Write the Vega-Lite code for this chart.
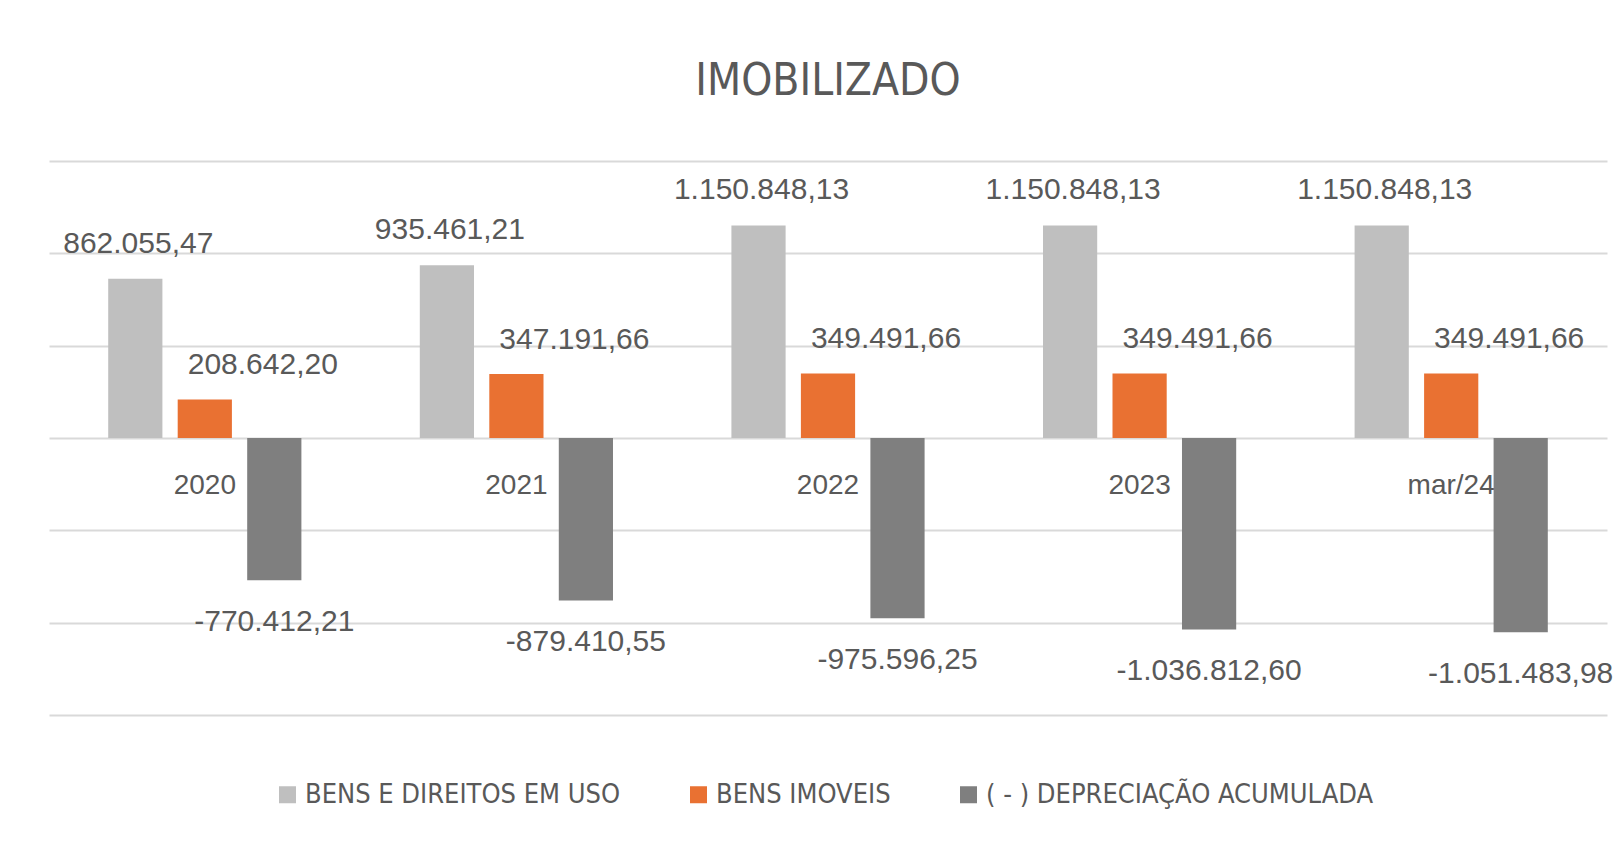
{
  "$schema": "https://vega.github.io/schema/vega-lite/v6.json",
  "autosize": "none",
  "padding": {"left": 49, "top": 161, "right": 17, "bottom": 126},
  "width": 1558,
  "height": 554,
  "background": "white",
  "title": {
    "text": "IMOBILIZADO",
    "fontSize": 44,
    "font": "Liberation Sans Narrow, DejaVu Sans Condensed, sans-serif",
    "fontWeight": "normal",
    "color": "#595959",
    "anchor": "middle",
    "baseline": "bottom",
    "offset": 13
  },
  "config": {
    "view": {"stroke": null},
    "locale": {"number": {"decimal": ",", "thousands": ".", "grouping": [3], "currency": ["R$", ""], "minus": "-"}}
  },
  "data": {
    "values": [
      {"periodo": "2020", "serie": "BENS E DIREITOS EM USO", "valor": 862055.47},
      {"periodo": "2020", "serie": "BENS IMOVEIS", "valor": 208642.20},
      {"periodo": "2020", "serie": "( - ) DEPRECIAÇÃO ACUMULADA", "valor": -770412.21},
      {"periodo": "2021", "serie": "BENS E DIREITOS EM USO", "valor": 935461.21},
      {"periodo": "2021", "serie": "BENS IMOVEIS", "valor": 347191.66},
      {"periodo": "2021", "serie": "( - ) DEPRECIAÇÃO ACUMULADA", "valor": -879410.55},
      {"periodo": "2022", "serie": "BENS E DIREITOS EM USO", "valor": 1150848.13},
      {"periodo": "2022", "serie": "BENS IMOVEIS", "valor": 349491.66},
      {"periodo": "2022", "serie": "( - ) DEPRECIAÇÃO ACUMULADA", "valor": -975596.25},
      {"periodo": "2023", "serie": "BENS E DIREITOS EM USO", "valor": 1150848.13},
      {"periodo": "2023", "serie": "BENS IMOVEIS", "valor": 349491.66},
      {"periodo": "2023", "serie": "( - ) DEPRECIAÇÃO ACUMULADA", "valor": -1036812.60},
      {"periodo": "mar/24", "serie": "BENS E DIREITOS EM USO", "valor": 1150848.13},
      {"periodo": "mar/24", "serie": "BENS IMOVEIS", "valor": 349491.66},
      {"periodo": "mar/24", "serie": "( - ) DEPRECIAÇÃO ACUMULADA", "valor": -1051483.98}
    ]
  },
  "encoding": {
    "x": {
      "field": "periodo",
      "type": "nominal",
      "scale": {"domain": ["2020", "2021", "2022", "2023", "mar/24"], "paddingInner": 0.38, "paddingOuter": 0.19},
      "axis": {
        "title": null,
        "orient": "bottom",
        "offset": -277,
        "domain": false,
        "ticks": false,
        "labelAngle": 0,
        "labelFont": "Liberation Sans, Arial, sans-serif",
        "labelFontSize": 28,
        "labelColor": "#595959",
        "labelPadding": 33,
        "grid": false
      }
    },
    "xOffset": {
      "field": "serie",
      "type": "nominal",
      "scale": {"domain": ["BENS E DIREITOS EM USO", "BENS IMOVEIS", "( - ) DEPRECIAÇÃO ACUMULADA"], "paddingInner": 0.22, "paddingOuter": 0}
    },
    "y": {
      "field": "valor",
      "type": "quantitative",
      "scale": {"domain": [-1500000, 1500000], "nice": false},
      "axis": {
        "title": null,
        "labels": false,
        "ticks": false,
        "domain": false,
        "grid": true,
        "gridColor": "#d9d9d9",
        "gridWidth": 2,
        "values": [-1500000, -1000000, -500000, 0, 500000, 1000000, 1500000]
      }
    }
  },
  "layer": [
    {
      "mark": {"type": "bar"},
      "encoding": {
        "color": {
          "field": "serie",
          "type": "nominal",
          "scale": {
            "domain": ["BENS E DIREITOS EM USO", "BENS IMOVEIS", "( - ) DEPRECIAÇÃO ACUMULADA"],
            "range": ["#bfbfbf", "#e97132", "#7f7f7f"]
          },
          "legend": {
            "title": null,
            "orient": "none",
            "legendX": 225,
            "legendY": 620,
            "direction": "horizontal",
            "symbolType": "square",
            "symbolSize": 289,
            "symbolStrokeWidth": 0,
            "labelFont": "Liberation Sans Narrow, DejaVu Sans Condensed, sans-serif",
            "labelFontSize": 27,
            "labelColor": "#595959",
            "labelOffset": 4,
            "labelLimit": 600,
            "columnPadding": 64
          }
        }
      }
    },
    {
      "transform": [{"filter": "datum.serie === 'BENS E DIREITOS EM USO'"}],
      "mark": {"type": "text", "baseline": "alphabetic", "dy": -26, "dx": 3, "font": "Liberation Sans, Arial, sans-serif", "fontSize": 30, "color": "#595959"},
      "encoding": {"text": {"field": "valor", "type": "quantitative", "format": ",.2f"}}
    },
    {
      "transform": [{"filter": "datum.serie === 'BENS IMOVEIS'"}],
      "mark": {"type": "text", "baseline": "alphabetic", "dy": -25, "dx": 58, "font": "Liberation Sans, Arial, sans-serif", "fontSize": 30, "color": "#595959"},
      "encoding": {"text": {"field": "valor", "type": "quantitative", "format": ",.2f"}}
    },
    {
      "transform": [{"filter": "datum.serie === '( - ) DEPRECIAÇÃO ACUMULADA'"}],
      "mark": {"type": "text", "baseline": "alphabetic", "dy": 51, "font": "Liberation Sans, Arial, sans-serif", "fontSize": 30, "color": "#595959"},
      "encoding": {"text": {"field": "valor", "type": "quantitative", "format": ",.2f"}}
    }
  ]
}
